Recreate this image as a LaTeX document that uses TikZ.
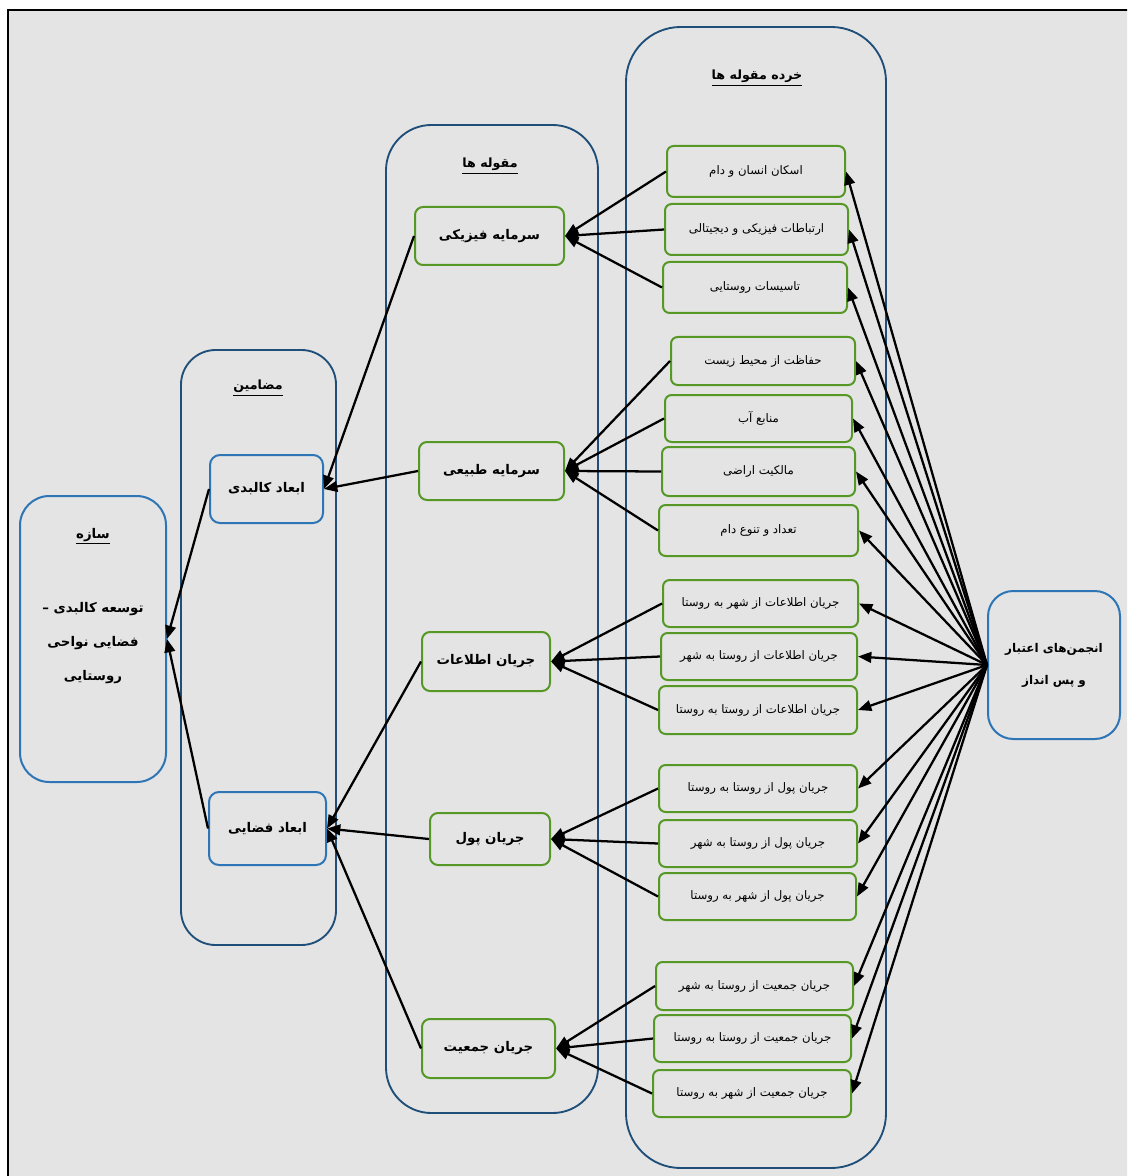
\documentclass[tikz,border=0pt]{standalone}
\usepackage{fontspec}
\usetikzlibrary{arrows.meta}
\newfontfamily\fa[Script=Arabic]{DejaVu Sans}
\TeXXeTstate=1
\definecolor{bg}{RGB}{228,228,228}
\definecolor{dblue}{RGB}{31,78,121}
\definecolor{lblue}{RGB}{46,117,182}
\definecolor{grn}{RGB}{86,152,38}
\newcommand\fatext[1]{\beginR #1\endR}
\newcommand\pbox[7]{\node[#2, minimum width={(#5-#3)*0.75pt}, minimum height={(#6-#4)*0.75pt}] (#1) at ({(#3+#5)/2},{(#4+#6)/2}) {#7};}
\tikzset{
  subbox/.style={draw=grn, line width=1.5pt, rounded corners=5pt, fill=bg, inner sep=0pt,
    font=\fa\fontsize{8.8}{10}\selectfont},
  catbox/.style={draw=grn, line width=1.5pt, rounded corners=6pt, fill=bg, inner sep=0pt,
    font=\fa\bfseries\fontsize{10}{12}\selectfont},
  themebox/.style={draw=lblue, line width=1.5pt, rounded corners=7.5pt, fill=bg, inner sep=0pt,
    font=\fa\bfseries\fontsize{10}{12}\selectfont},
  bigbox/.style={draw=lblue, line width=1.5pt, fill=bg, inner sep=0pt, align=center,
    font=\fa\bfseries\fontsize{10}{25.5}\selectfont},
  container/.style={draw=dblue, line width=1.4pt},
  titletext/.style={inner sep=1pt, font=\fa\bfseries\fontsize{9.5}{12}\selectfont},
  conn/.style={line width=1.7pt, -{Triangle[length=10pt,width=8pt]}},
}
\begin{document}
\begin{tikzpicture}[x=0.75pt,y=-0.75pt]
\useasboundingbox (0,0) rectangle (1127,1176);
\clip (0,0) rectangle (1127,1176);
\fill[white] (0,0) rectangle (1127,1176);
\draw[black, line width=2pt, fill=bg] (8,10) rectangle (1140,1190);

% containers
\draw[container, rounded corners=41pt] (626,27) rectangle (886,1168);
\draw[container, rounded corners=34pt] (386,125) rectangle (598,1113);
\draw[container, rounded corners=26pt] (181,350) rectangle (336,945);

% titles
\node[titletext] (tsub) at (757,78) {\underline{\hbox{\fatext{خرده مقوله ها}}}};
\node[titletext] (tcat) at (490,166) {\underline{\hbox{\fatext{مقوله ها}}}};
\node[titletext] (tthm) at (258,388) {\underline{\hbox{\fatext{مضامین}}}};

% construct and source
\pbox{saze}{bigbox, rounded corners=22pt}{20}{496}{166}{782}{\underline{\hbox{\fatext{سازه}}}\\[30pt]\fatext{توسعه کالبدی –}\\\fatext{فضایی نواحی}\\\fatext{روستایی}\\[27pt]}
\pbox{anj}{bigbox, rounded corners=19pt, font=\fa\bfseries\fontsize{9}{24}\selectfont}{988}{591}{1120}{739}{\fatext{انجمن‌های اعتبار}\\\fatext{و پس انداز}}

% themes
\pbox{t1}{themebox}{210}{455}{323}{523}{\fatext{ابعاد کالبدی}}
\pbox{t2}{themebox}{209}{792}{326}{865}{\fatext{ابعاد فضایی}}

% categories
\pbox{c1}{catbox}{415}{207}{564}{265}{\fatext{سرمایه فیزیکی}}
\pbox{c2}{catbox}{419}{442}{564}{500}{\fatext{سرمایه طبیعی}}
\pbox{c3}{catbox}{422}{632}{550}{691}{\fatext{جریان اطلاعات}}
\pbox{c4}{catbox}{430}{813}{550}{865}{\fatext{جریان پول}}
\pbox{c5}{catbox}{422}{1019}{555}{1078}{\fatext{جریان جمعیت}}

% subcategories
\pbox{s1}{subbox}{667}{146}{845}{197}{\fatext{اسکان انسان و دام}}
\pbox{s2}{subbox}{665}{204}{848}{255}{\fatext{ارتباطات فیزیکی و دیجیتالی}}
\pbox{s3}{subbox}{663}{262}{847}{313}{\fatext{تاسیسات روستایی}}
\pbox{s4}{subbox}{671}{337}{855}{385}{\fatext{حفاظت از محیط زیست}}
\pbox{s5}{subbox}{665}{395}{852}{442}{\fatext{منابع آب}}
\pbox{s6}{subbox}{662}{447}{855}{496}{\fatext{مالکیت اراضی}}
\pbox{s7}{subbox}{659}{505}{858}{556}{\fatext{تعداد و تنوع دام}}
\pbox{s8}{subbox}{663}{580}{858}{627}{\fatext{جریان اطلاعات از شهر به روستا}}
\pbox{s9}{subbox}{661}{633}{857}{680}{\fatext{جریان اطلاعات از روستا به شهر}}
\pbox{s10}{subbox}{659}{686}{857}{734}{\fatext{جریان اطلاعات از روستا به روستا}}
\pbox{s11}{subbox}{659}{765}{857}{812}{\fatext{جریان پول از روستا به روستا}}
\pbox{s12}{subbox}{659}{820}{857}{867}{\fatext{جریان پول از روستا به شهر}}
\pbox{s13}{subbox}{659}{873}{856}{920}{\fatext{جریان پول از شهر به روستا}}
\pbox{s14}{subbox}{656}{962}{853}{1010}{\fatext{جریان جمعیت از روستا به شهر}}
\pbox{s15}{subbox}{654}{1015}{851}{1062}{\fatext{جریان جمعیت از روستا به روستا}}
\pbox{s16}{subbox}{653}{1070}{851}{1117}{\fatext{جریان جمعیت از شهر به روستا}}

% subcategory -> category
\foreach \s in {s1,s2,s3} \draw[conn] (\s.west) -- (c1.east);
\foreach \s in {s4,s5,s6,s7} \draw[conn] (\s.west) -- (c2.east);
\foreach \s in {s8,s9,s10} \draw[conn] (\s.west) -- (c3.east);
\foreach \s in {s11,s12,s13} \draw[conn] (\s.west) -- (c4.east);
\foreach \s in {s14,s15,s16} \draw[conn] (\s.west) -- (c5.east);

% category -> theme
\foreach \c in {c1,c2} \draw[conn] (\c.west) -- (t1.east);
\foreach \c in {c3,c4,c5} \draw[conn] (\c.west) -- (t2.east);

% theme -> construct
\foreach \t in {t1,t2} \draw[conn] (\t.west) -- (saze.east);

% source -> subcategories
\foreach \s in {s1,s2,s3,s4,s5,s6,s7,s8,s9,s10,s11,s12,s13,s14,s15,s16}
  \draw[conn] (anj.west) -- (\s.east);
\end{tikzpicture}
\end{document}
